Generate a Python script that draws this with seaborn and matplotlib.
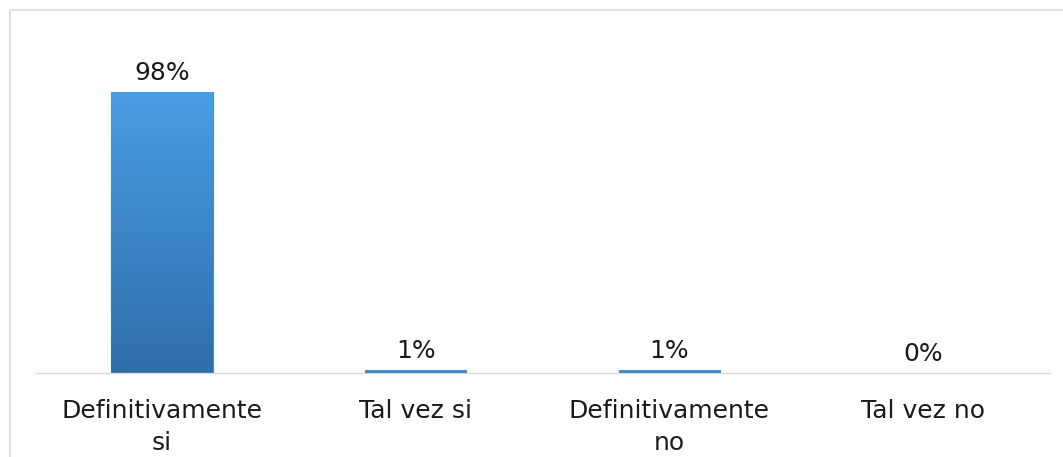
import numpy as np
import matplotlib
matplotlib.use('Agg')
import matplotlib.pyplot as plt
import matplotlib.patches as mpatches
import seaborn as sns

categories = ['Definitivamente\nsi', 'Tal vez si', 'Definitivamente\nno', 'Tal vez no']
values = [98, 1, 1, 0]
labels = ['98%', '1%', '1%', '0%']

sns.set_style('white')
plt.rcParams['font.family'] = ['DejaVu Sans']

fig = plt.figure(figsize=(10.63, 4.57), dpi=100)
ax = fig.add_axes([35 / 1063, 84 / 457, 1015 / 1063, 287 / 457])

sns.barplot(x=categories, y=values, color='#3f8fd6', width=0.4, ax=ax, saturation=1)

# vertical gradient fill clipped to each bar
grad = np.linspace(0, 1, 256).reshape(-1, 1)
cmap = matplotlib.colors.LinearSegmentedColormap.from_list('g', ['#2f6ea9', '#4a9de3'])
for p in ax.patches:
    x0, y0 = p.get_x(), p.get_y()
    w, h = p.get_width(), p.get_height()
    if h <= 0:
        continue
    im = ax.imshow(grad, extent=[x0, x0 + w, y0, y0 + h], origin='lower', cmap=cmap,
                   aspect='auto', zorder=p.get_zorder() + 0.1)
    im.set_clip_path(p)
    p.set_edgecolor('#3f8fd6')
    p.set_linewidth(0.8)

ax.set_xlim(-0.5, 3.5)
ax.set_ylim(0, 100)

for i, (v, t) in enumerate(zip(values, labels)):
    ax.annotate(t, (i, v), xytext=(0, 5), textcoords='offset points',
                ha='center', va='bottom', fontsize=18, color='#1a1a1a')

ax.set_yticks([])
ax.tick_params(axis='x', length=0, pad=19, labelsize=18, labelcolor='#1a1a1a')
for lab in ax.get_xticklabels():
    lab.set_linespacing(1.4)
for s in ['top', 'right', 'left']:
    ax.spines[s].set_visible(False)
ax.spines['bottom'].set_color('#d9d9d9')
ax.spines['bottom'].set_linewidth(1)

# outer frame of the chart area
frame = mpatches.Rectangle((10 / 1063, -0.1), 1.1, 1 - 10 / 457 + 0.1, transform=fig.transFigure,
                           fill=False, edgecolor='#dde3ee', linewidth=1.5)
fig.patches.append(frame)

fig.savefig('out.png', dpi=100)
